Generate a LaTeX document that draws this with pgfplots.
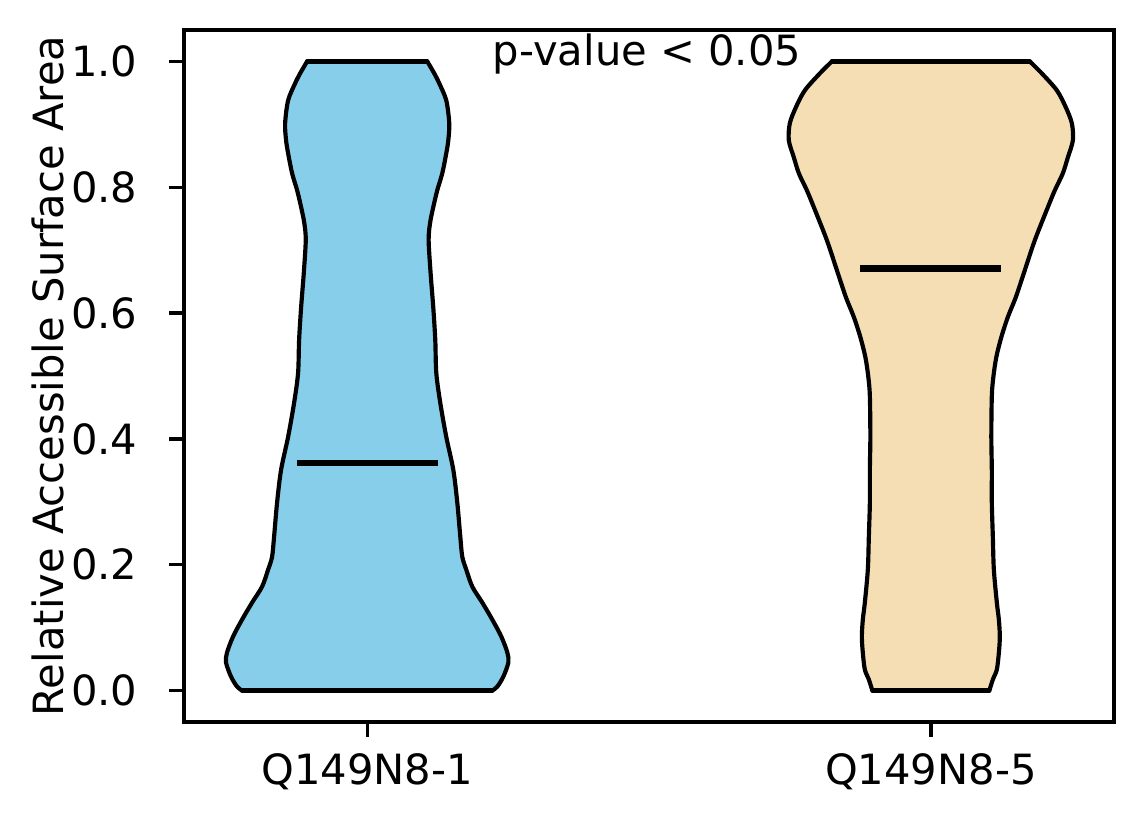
\documentclass[border=0pt]{standalone}
\usepackage{fontspec}
\setmainfont{DejaVu Sans}
\usepackage{pgfplots}
\usepackage{pgfplotstable}
\pgfplotsset{compat=1.18}
\definecolor{skyblue}{RGB}{135,206,235}
\definecolor{wheat}{RGB}{245,222,179}

% violin outline: right side (s=1) bottom to top, left side (s=-1) top to bottom
\pgfplotstableread{
v w s
0.0000 0.2220 1
0.0063 0.2309 1
0.0222 0.2416 1
0.0444 0.2504 1
0.0603 0.2487 1
0.0857 0.2380 1
0.1127 0.2220 1
0.1397 0.2043 1
0.1651 0.1865 1
0.1921 0.1758 1
0.2127 0.1687 1
0.2444 0.1652 1
0.2984 0.1599 1
0.3508 0.1528 1
0.4032 0.1403 1
0.4571 0.1297 1
0.5048 0.1226 1
0.5571 0.1208 1
0.6095 0.1172 1
0.6635 0.1125 1
0.7159 0.1090 1
0.7429 0.1115 1
0.7683 0.1172 1
0.7952 0.1243 1
0.8222 0.1332 1
0.8540 0.1403 1
0.8746 0.1439 1
0.9016 0.1456 1
0.9381 0.1403 1
0.9651 0.1279 1
0.9810 0.1190 1
1.0000 0.1066 1
1.0000 0.1066 -1
0.9810 0.1190 -1
0.9651 0.1279 -1
0.9381 0.1403 -1
0.9016 0.1456 -1
0.8746 0.1439 -1
0.8540 0.1403 -1
0.8222 0.1332 -1
0.7952 0.1243 -1
0.7683 0.1172 -1
0.7429 0.1115 -1
0.7159 0.1090 -1
0.6635 0.1125 -1
0.6095 0.1172 -1
0.5571 0.1208 -1
0.5048 0.1226 -1
0.4571 0.1297 -1
0.4032 0.1403 -1
0.3508 0.1528 -1
0.2984 0.1599 -1
0.2444 0.1652 -1
0.2127 0.1687 -1
0.1921 0.1758 -1
0.1651 0.1865 -1
0.1397 0.2043 -1
0.1127 0.2220 -1
0.0857 0.2380 -1
0.0603 0.2487 -1
0.0444 0.2504 -1
0.0222 0.2416 -1
0.0063 0.2309 -1
0.0000 0.2220 -1
}\violinA

\pgfplotstableread{
v w s
0.0000 0.1038 1
0.0175 0.1100 1
0.0333 0.1171 1
0.0603 0.1207 1
0.0857 0.1224 1
0.1127 0.1207 1
0.1397 0.1171 1
0.1921 0.1118 1
0.2444 0.1100 1
0.2984 0.1082 1
0.3508 0.1082 1
0.4032 0.1073 1
0.4683 0.1082 1
0.4984 0.1109 1
0.5302 0.1162 1
0.5619 0.1251 1
0.5937 0.1366 1
0.6254 0.1508 1
0.6635 0.1650 1
0.7159 0.1845 1
0.7683 0.2076 1
0.7952 0.2200 1
0.8222 0.2342 1
0.8476 0.2431 1
0.8746 0.2520 1
0.9016 0.2502 1
0.9270 0.2395 1
0.9540 0.2236 1
0.9810 0.1969 1
1.0000 0.1756 1
1.0000 0.1756 -1
0.9810 0.1969 -1
0.9540 0.2236 -1
0.9270 0.2395 -1
0.9016 0.2502 -1
0.8746 0.2520 -1
0.8476 0.2431 -1
0.8222 0.2342 -1
0.7952 0.2200 -1
0.7683 0.2076 -1
0.7159 0.1845 -1
0.6635 0.1650 -1
0.6254 0.1508 -1
0.5937 0.1366 -1
0.5619 0.1251 -1
0.5302 0.1162 -1
0.4984 0.1109 -1
0.4683 0.1082 -1
0.4032 0.1073 -1
0.3508 0.1082 -1
0.2984 0.1082 -1
0.2444 0.1100 -1
0.1921 0.1118 -1
0.1397 0.1171 -1
0.1127 0.1207 -1
0.0857 0.1224 -1
0.0603 0.1207 -1
0.0333 0.1171 -1
0.0175 0.1100 -1
0.0000 0.1038 -1
}\violinB

\begin{document}
\begin{tikzpicture}
\begin{axis}[
  at={(0,0)}, anchor=south west,
  scale only axis, width=223.2pt, height=166.08pt,
  xmin=0.675, xmax=2.325, ymin=-0.05, ymax=1.05,
  xtick={1,2}, xticklabels={Q149N8-1,Q149N8-5},
  ytick={0,0.2,0.4,0.6,0.8,1.0},
  /pgf/number format/assume math mode=true,
  yticklabel style={/pgf/number format/fixed, /pgf/number format/fixed zerofill,
    /pgf/number format/precision=1, anchor=east, inner sep=0pt, xshift=-7.5pt},
  xticklabel style={anchor=base, inner sep=0pt, yshift=-11.6pt},
  tick align=outside, tick pos=left, major tick length=3.5pt,
  every tick/.style={black, line width=0.8pt},
  axis line style={line width=0.8pt},
  axis on top,
  ylabel={Relative Accessible Surface Area},
  ylabel style={at={([xshift=-29.0pt]axis description cs:0,0.5)}, anchor=base, inner sep=0pt},
  tick label style={font=\fontsize{10}{12}\selectfont},
  label style={font=\fontsize{10}{12}\selectfont},
  outline/.style={black, line width=1pt, line cap=round, line join=round},
]
% --- violin 1
\addplot[fill=skyblue, draw=none] table[x expr=1+\thisrow{s}*\thisrow{w}, y=v] {\violinA};
\addplot[outline, smooth, restrict expr to domain={\thisrow{s}}{0.5:1.5}] table[x expr=1+\thisrow{s}*\thisrow{w}, y=v] {\violinA};
\addplot[outline, smooth, restrict expr to domain={\thisrow{s}}{-1.5:-0.5}] table[x expr=1+\thisrow{s}*\thisrow{w}, y=v] {\violinA};
\addplot[outline, restrict expr to domain={\thisrow{v}+1}{1.9995:2.0005}] table[x expr=1+\thisrow{s}*\thisrow{w}, y=v] {\violinA};
\addplot[outline] coordinates {(0.7780,0) (1.2220,0)};
% --- violin 2
\addplot[fill=wheat, draw=none] table[x expr=2+\thisrow{s}*\thisrow{w}, y=v] {\violinB};
\addplot[outline, smooth, restrict expr to domain={\thisrow{s}}{0.5:1.5}] table[x expr=2+\thisrow{s}*\thisrow{w}, y=v] {\violinB};
\addplot[outline, smooth, restrict expr to domain={\thisrow{s}}{-1.5:-0.5}] table[x expr=2+\thisrow{s}*\thisrow{w}, y=v] {\violinB};
\addplot[outline, restrict expr to domain={\thisrow{v}+1}{1.9995:2.0005}] table[x expr=2+\thisrow{s}*\thisrow{w}, y=v] {\violinB};
\addplot[outline] coordinates {(1.8962,0) (2.1038,0)};
% --- medians
\addplot[black, line width=1.5pt] coordinates {(0.875,0.362) (1.125,0.362)};
\addplot[black, line width=1.5pt] coordinates {(1.875,0.671) (2.125,0.671)};
\node[anchor=base, inner sep=0pt, font=\fontsize{10}{12}\selectfont] at (axis cs:1.4965,0.994) {p-value < 0.05};
\end{axis}
\pgfresetboundingbox
\path[use as bounding box] (-44.16pt,-24.48pt) rectangle (230.4pt,173.28pt);
\end{tikzpicture}
\end{document}
